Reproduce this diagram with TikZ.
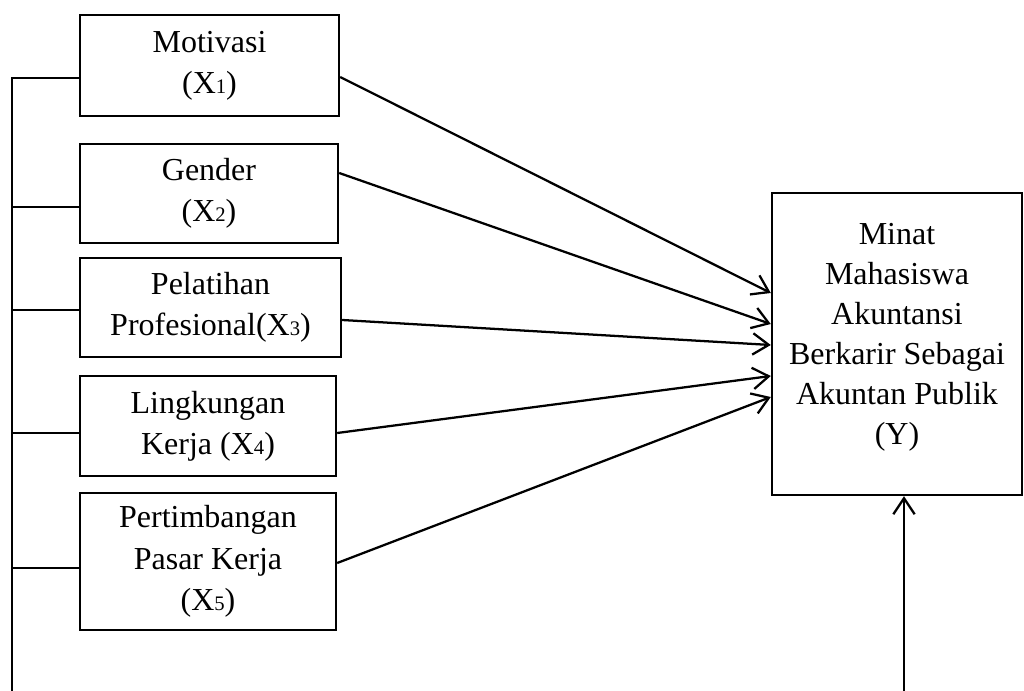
\documentclass[tikz,border=0pt]{standalone}
\usepackage{fontspec}
\setmainfont{Liberation Serif}
\usetikzlibrary{arrows.meta,calc}
\newcommand{\sub}[1]{{\fontsize{15.5}{15.5}\selectfont #1}}
\tikzset{
  txt/.style={align=center, inner sep=0pt, font=\fontsize{24}{31}\selectfont},
  box/.style={draw, line width=1.8pt, txt},
  link/.style={line width=1.7pt, -{Straight Barb[length=12pt,width=16pt,line width=1.7pt]}},
  tick/.style={line width=1.1pt},
}
\begin{document}
\begin{tikzpicture}[x=0.75pt,y=-0.75pt]
\useasboundingbox (0,0) rectangle (1024,691);
\node[box, minimum width=194.25pt, minimum height=75.75pt] (m) at (209.5,65.5) {Motivasi\\(X\sub{1})};
\node[box, minimum width=193.5pt, minimum height=74.25pt] (g) at (209,193.5) {Gender\\(X\sub{2})};
\node[box, minimum width=195.75pt, minimum height=74.25pt] (p) at (210.5,307.5) {Pelatihan\\Profesional(X\sub{3})};
\node[box, minimum width=192pt, minimum height=75pt] (l) at (208,426) {Lingkungan\\Kerja (X\sub{4})};
\node[box, minimum width=192pt, minimum height=102.75pt] (k) at (208,561.5) {Pertimbangan\\Pasar Kerja\\(X\sub{5})};
\node[box, minimum width=187.5pt, minimum height=226.5pt] (y) at (897,344) {};
\node[txt, font=\fontsize{24}{30}\selectfont] (yt) at ($(y.center)+(0,-7)$) {Minat\\Mahasiswa\\Akuntansi\\Berkarir Sebagai\\Akuntan Publik\\(Y)};
% left bracket line
\coordinate (tm) at ($(m.west)+(0,12.5)$);
\coordinate (tg) at ($(g.west)+(0,13.5)$);
\coordinate (tp) at ($(p.west)+(0,2.5)$);
\coordinate (tl) at ($(l.west)+(0,7)$);
\coordinate (tk) at ($(k.west)+(0,6.5)$);
\coordinate (ltop) at (12,0 |- tm);
\coordinate (lbot) at (12,691);
\draw[tick] (lbot) -- (ltop) -- (tm);
\draw[tick] (tg) -- (ltop |- tg);
\draw[tick] (tp) -- (ltop |- tp);
\draw[tick] (tl) -- (ltop |- tl);
\draw[tick] (tk) -- (ltop |- tk);
% arrows
\draw[link] ($(m.east)+(0,11.5)$) -- ($(y.west)+(0,-51)$);
\draw[link] ($(g.east)+(0,-20.5)$) -- ($(y.west)+(0,-20)$);
\draw[link] ($(p.east)+(0,12.5)$) -- ($(y.west)+(0,1)$);
\draw[link] ($(l.east)+(0,7)$) -- ($(y.west)+(0,32)$);
\draw[link] ($(k.east)+(0,1.5)$) -- ($(y.west)+(0,53)$);
\coordinate (bot) at (904,691);
\draw[link] (bot) -- (bot |- y.south);
\end{tikzpicture}
\end{document}
